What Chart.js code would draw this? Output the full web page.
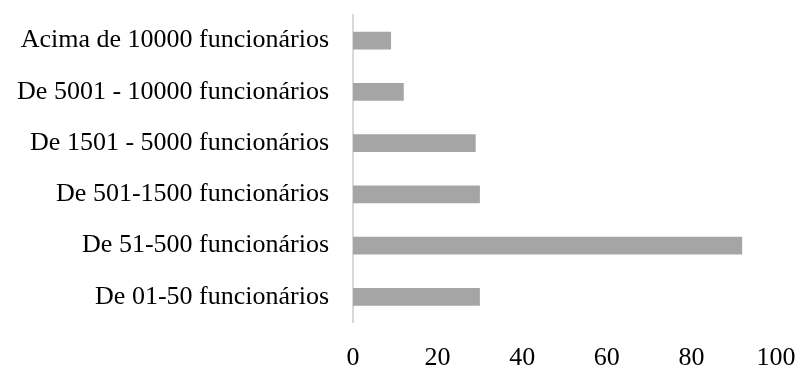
<!DOCTYPE html>
<html>
<head>
<meta charset="utf-8">
<script src="https://cdn.jsdelivr.net/npm/chart.js@4/dist/chart.umd.min.js"></script>
<style>
  html, body { margin: 0; padding: 0; background: #ffffff; }
  #wrap { width: 798px; height: 365px; }
</style>
</head>
<body>
<div id="wrap"><canvas id="c" width="798" height="365"></canvas></div>
<script>
// Companies by number of employees
const categories = [
  'Acima de 10000 funcionários',
  'De 5001 - 10000 funcionários',
  'De 1501 - 5000 funcionários',
  'De 501-1500 funcionários',
  'De 51-500 funcionários',
  'De 01-50 funcionários'
];
const counts = [9, 12, 29, 30, 92, 30];
const xTicks = [0, 20, 40, 60, 80, 100];

const serif = "'Liberation Serif', 'Times New Roman', serif";

// Keep the plot box fixed: drop the extra room the scales reserve for edge labels
function noEdgePadding(scale) {
  scale.paddingLeft = 0;
  scale.paddingRight = 0;
  scale.paddingTop = 0;
  scale.paddingBottom = 0;
}

new Chart(document.getElementById('c'), {
  type: 'bar',
  data: {
    labels: categories,
    datasets: [{
      data: counts,
      backgroundColor: '#a5a5a5',
      borderWidth: 0,
      barPercentage: 0.35,
      categoryPercentage: 1.0
    }]
  },
  options: {
    indexAxis: 'y',
    responsive: false,
    animation: false,
    layout: { padding: { top: 15, right: 22, bottom: 0, left: 0 } },
    plugins: {
      legend: { display: false },
      tooltip: { enabled: false }
    },
    scales: {
      x: {
        min: 0,
        max: 100,
        afterBuildTicks: (scale) => { scale.ticks = xTicks.map(v => ({ value: v })); },
        afterFit: (scale) => { scale.height = 42.5; noEdgePadding(scale); },
        grid: { display: false, drawTicks: false },
        border: { display: false },
        ticks: {
          color: '#000000',
          padding: 20,
          maxRotation: 0,
          font: { family: serif, size: 26 }
        }
      },
      y: {
        afterFit: (scale) => { scale.width = 353; noEdgePadding(scale); },
        grid: { display: false, drawTicks: false },
        border: { display: true, color: '#d9d9d9', width: 2 },
        ticks: {
          color: '#000000',
          padding: 24,
          font: { family: serif, size: 26 }
        }
      }
    }
  }
});
</script>
</body>
</html>
